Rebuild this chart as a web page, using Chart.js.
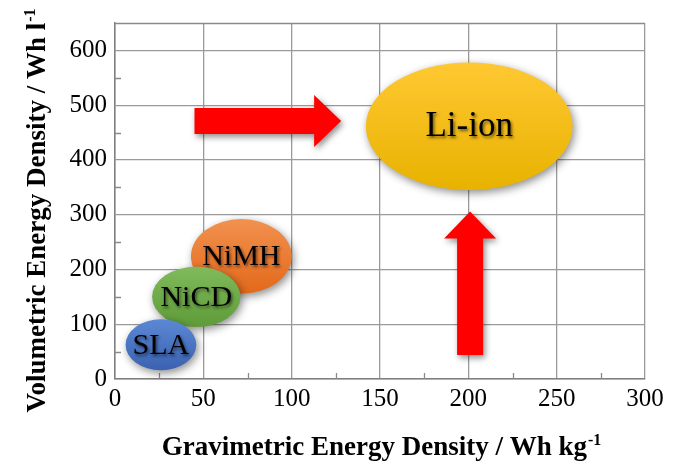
<!DOCTYPE html>
<html>
<head>
<meta charset="utf-8">
<script src="https://cdn.jsdelivr.net/npm/chart.js@4.4.1/dist/chart.umd.min.js"></script>
<style>
  html, body { margin: 0; padding: 0; background: #fff; }
  canvas { display: block; }
</style>
</head>
<body>
<canvas id="c" width="673" height="466"></canvas>
<script>
// Battery chemistries and the energy-density region each one covers
const chemistries = ['SLA', 'NiCD', 'NiMH', 'Li-ion'];
const gravMin = [6, 21, 43, 142];    // Wh kg-1
const gravMax = [46, 71, 100, 259];
const volMin  = [16, 95, 156, 345];  // Wh l-1
const volMax  = [109, 205, 292, 578];

// Axis ticks
const xTicks = [0, 50, 100, 150, 200, 250, 300];
const yTicks = [0, 100, 200, 300, 400, 500, 600];
const xMinorTicks = [25, 75, 125, 175, 225, 275];
const yMinorTicks = [50, 150, 250, 350, 450, 550];

// Improvement arrows pointing at Li-ion (data coordinates)
const arrowFromX = [45, 201];
const arrowFromY = [471, 44];
const arrowToX   = [128, 201];
const arrowToY   = [471, 306];

// Fill colours (top, bottom of the gradient) and label sizes
const fillTop    = ['#5b88d4', '#80ba5c', '#f2914f', '#ffc832'];
const fillBottom = ['#3a62b0', '#5f9b38', '#e2691a', '#e8b200'];
const labelSize  = [30, 30, 30, 35];
const drawOrder  = [3, 2, 1, 0];

const SERIF = '"Liberation Serif", "Times New Roman", serif';

const regionPlugin = {
  id: 'regions',
  beforeDatasetsDraw(chart) {
    const { ctx, chartArea: a, scales: { x, y } } = chart;
    ctx.save();
    ctx.strokeStyle = '#8a8a8a';
    ctx.lineWidth = 1.3;
    // frame top edge
    ctx.beginPath();
    ctx.moveTo(a.left, a.top + 0.5);
    ctx.lineTo(a.right, a.top + 0.5);
    ctx.stroke();
    // inward minor ticks
    ctx.beginPath();
    xMinorTicks.forEach(v => {
      const px = Math.round(x.getPixelForValue(v)) + 0.5;
      ctx.moveTo(px, a.bottom);
      ctx.lineTo(px, a.bottom - 6);
    });
    yMinorTicks.forEach(v => {
      const py = Math.round(y.getPixelForValue(v)) + 0.5;
      ctx.moveTo(a.left, py);
      ctx.lineTo(a.left + 6, py);
    });
    ctx.stroke();
    ctx.restore();
  },
  afterDatasetsDraw(chart) {
    const { ctx, scales: { x, y } } = chart;

    // arrows
    for (let i = 0; i < arrowFromX.length; i++) {
      const x0 = x.getPixelForValue(arrowFromX[i]);
      const y0 = y.getPixelForValue(arrowFromY[i]);
      const x1 = x.getPixelForValue(arrowToX[i]);
      const y1 = y.getPixelForValue(arrowToY[i]);
      const len = Math.hypot(x1 - x0, y1 - y0);
      const ux = (x1 - x0) / len, uy = (y1 - y0) / len;
      const nx = -uy, ny = ux;
      const shaft = 13, head = 26, headLen = 27;
      const bx = x1 - ux * headLen, by = y1 - uy * headLen;
      ctx.save();
      ctx.shadowColor = 'rgba(0,0,0,0.45)';
      ctx.shadowBlur = 6;
      ctx.shadowOffsetX = 2;
      ctx.shadowOffsetY = 3;
      ctx.fillStyle = '#ff0000';
      ctx.beginPath();
      ctx.moveTo(x0 + nx * shaft, y0 + ny * shaft);
      ctx.lineTo(bx + nx * shaft, by + ny * shaft);
      ctx.lineTo(bx + nx * head, by + ny * head);
      ctx.lineTo(x1, y1);
      ctx.lineTo(bx - nx * head, by - ny * head);
      ctx.lineTo(bx - nx * shaft, by - ny * shaft);
      ctx.lineTo(x0 - nx * shaft, y0 - ny * shaft);
      ctx.closePath();
      ctx.fill();
      ctx.restore();
    }

    // chemistry regions
    drawOrder.forEach(i => {
      const l = x.getPixelForValue(gravMin[i]);
      const r = x.getPixelForValue(gravMax[i]);
      const t = y.getPixelForValue(volMax[i]);
      const b = y.getPixelForValue(volMin[i]);
      const cx = (l + r) / 2, cy = (t + b) / 2;
      const rx = (r - l) / 2, ry = (b - t) / 2;
      const g = ctx.createLinearGradient(0, t, 0, b);
      g.addColorStop(0, fillTop[i]);
      g.addColorStop(1, fillBottom[i]);
      ctx.save();
      ctx.shadowColor = 'rgba(0,0,0,0.45)';
      ctx.shadowBlur = 8;
      ctx.shadowOffsetX = 2;
      ctx.shadowOffsetY = 3;
      ctx.fillStyle = g;
      ctx.beginPath();
      ctx.ellipse(cx, cy, rx, ry, 0, 0, Math.PI * 2);
      ctx.fill();
      ctx.restore();

      ctx.save();
      ctx.font = `${labelSize[i]}px ${SERIF}`;
      ctx.textAlign = 'center';
      ctx.textBaseline = 'middle';
      ctx.shadowColor = 'rgba(0,0,0,0.55)';
      ctx.shadowBlur = 3;
      ctx.shadowOffsetX = 1.5;
      ctx.shadowOffsetY = 2;
      ctx.fillStyle = '#000';
      ctx.fillText(chemistries[i], cx, cy + 1);
      ctx.restore();
    });
  },
  afterDraw(chart) {
    const { ctx, chartArea: a } = chart;
    const drawWithSup = (main, sup, size) => {
      ctx.font = `bold ${size}px ${SERIF}`;
      const w1 = ctx.measureText(main).width;
      ctx.font = `bold ${Math.round(size * 0.6)}px ${SERIF}`;
      const w2 = ctx.measureText(sup).width;
      const start = -(w1 + w2) / 2;
      ctx.font = `bold ${size}px ${SERIF}`;
      ctx.fillText(main, start, 0);
      ctx.font = `bold ${Math.round(size * 0.6)}px ${SERIF}`;
      ctx.fillText(sup, start + w1 + 1, -size * 0.38);
    };
    ctx.save();
    ctx.fillStyle = '#000';
    ctx.textAlign = 'left';
    ctx.textBaseline = 'alphabetic';
    // x-axis title
    ctx.save();
    ctx.translate((a.left + a.right) / 2 + 1, 455);
    drawWithSup('Gravimetric Energy Density / Wh kg', '-1', 27);
    ctx.restore();
    // y-axis title
    ctx.save();
    ctx.translate(45, 211);
    ctx.rotate(-Math.PI / 2);
    drawWithSup('Volumetric Energy Density / Wh l', '-1', 27);
    ctx.restore();
    ctx.restore();
  }
};

new Chart(document.getElementById('c'), {
  type: 'scatter',
  data: {
    datasets: [{
      label: 'Energy density',
      data: chemistries.map((c, i) => ({
        x: (gravMin[i] + gravMax[i]) / 2,
        y: (volMin[i] + volMax[i]) / 2
      })),
      pointRadius: 0,
      pointHoverRadius: 0
    }]
  },
  options: {
    responsive: false,
    devicePixelRatio: 1,
    animation: false,
    events: [],
    layout: { padding: { top: 20, right: 28, left: 0, bottom: 0 } },
    plugins: { legend: { display: false }, tooltip: { enabled: false } },
    scales: {
      x: {
        type: 'linear',
        min: 0,
        max: 300,
        afterBuildTicks: s => { s.ticks = xTicks.map(v => ({ value: v })); },
        afterFit: s => { s.height = 87; },
        grid: { color: '#9a9a9a', lineWidth: 1.3, drawTicks: false },
        border: { color: '#808080', width: 1.5 },
        ticks: { color: '#000', padding: 5, font: { family: SERIF, size: 25 } }
      },
      y: {
        type: 'linear',
        min: 0,
        max: 650,
        afterBuildTicks: s => { s.ticks = yTicks.map(v => ({ value: v })); },
        afterFit: s => { s.width = 115; },
        grid: { color: '#9a9a9a', lineWidth: 1.3, drawTicks: false },
        border: { color: '#808080', width: 1.5 },
        ticks: { color: '#000', padding: 8, font: { family: SERIF, size: 25 } }
      }
    }
  },
  plugins: [regionPlugin]
});
</script>
</body>
</html>
